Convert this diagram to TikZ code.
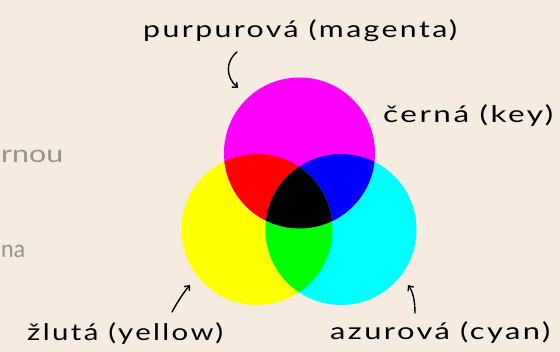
\documentclass[tikz,border=0pt]{standalone}
\usepackage{fontspec}
\usepackage{graphicx}
\usetikzlibrary{arrows.meta}
\newfontfamily\handfont[LetterSpace=8]{Lato}
\newfontfamily\greyfont{Lato}
\definecolor{bgbeige}{RGB}{245,235,225}
\definecolor{greytext}{RGB}{150,145,140}
\definecolor{pmagenta}{RGB}{255,0,255}
\definecolor{pcyan}{RGB}{0,255,255}
\definecolor{pyellow}{RGB}{255,255,0}
\definecolor{pred}{RGB}{255,0,0}
\definecolor{pgreen}{RGB}{0,255,0}
\definecolor{pblue}{RGB}{0,0,255}
\definecolor{pblack}{RGB}{0,0,0}
\tikzset{
  handlabel/.style={inner sep=0pt, anchor=base west, font=\handfont\fontsize{23}{23}\selectfont, text=black},
  greylabel/.style={inner sep=0pt, anchor=base west, font=\greyfont\fontsize{24}{24}\selectfont, text=greytext},
  handarrow/.style={draw=black, line width=1.4pt, line cap=round, -{Straight Barb[length=4pt,width=7pt,line width=1.4pt]}}
}
\newcommand{\fitto}[2]{\resizebox{#1}{\height}{#2}}
\begin{document}
\begin{tikzpicture}[x=1pt,y=-1pt]
  \useasboundingbox (0,0) rectangle (560,352);
  \fill[bgbeige] (0,0) rectangle (560,352);
  % centres
  \coordinate (cm) at (299.5,153);
  \coordinate (cy) at (257,229.5);
  \coordinate (cc) at (341,229.5);
  \def\rr{75.5pt}
  % base discs
  \fill[pyellow] (cy) circle[radius=\rr];
  \fill[pcyan] (cc) circle[radius=\rr];
  \fill[pmagenta] (cm) circle[radius=\rr];
  % pairwise overlaps
  \begin{scope}
    \clip (cm) circle[radius=\rr];
    \fill[pred] (cy) circle[radius=\rr];
    \fill[pblue] (cc) circle[radius=\rr];
  \end{scope}
  \begin{scope}
    \clip (cy) circle[radius=\rr];
    \fill[pgreen] (cc) circle[radius=\rr];
  \end{scope}
  \begin{scope}
    \clip (cm) circle[radius=\rr];
    \clip (cy) circle[radius=\rr];
    \fill[pblack] (cc) circle[radius=\rr];
  \end{scope}
  % grey text at the left edge
  \node[greylabel] (g1) at (1,163) {\fitto{62pt}{rnou}};
  \node[greylabel] (g2) at (1,258) {\fitto{24pt}{na}};
  % labels
  \node[handlabel] (lm) at (143,38) {\fitto{314pt}{purpurová (magenta)}};
  \node[handlabel] (lk) at (383,123) {\fitto{170pt}{černá (key)}};
  \node[handlabel] (ly) at (27,341) {\fitto{196pt}{žlutá (yellow)}};
  \node[handlabel] (lc) at (330,340) {\fitto{220pt}{azurová (cyan)}};
  % arrows
  \coordinate (am1) at (237,52);
  \coordinate (am2) at (238,88);
  \coordinate (ay1) at (172,312);
  \coordinate (ay2) at (190,285);
  \coordinate (ac1) at (415,313);
  \coordinate (ac2) at (408,285);
  \draw[handarrow] (am1) .. controls (225,62) and (226,77) .. (am2);
  \draw[handarrow] (ay1) .. controls (178,301) and (184,292) .. (ay2);
  \draw[handarrow] (ac1) .. controls (415,301) and (413,292) .. (ac2);
\end{tikzpicture}
\end{document}
